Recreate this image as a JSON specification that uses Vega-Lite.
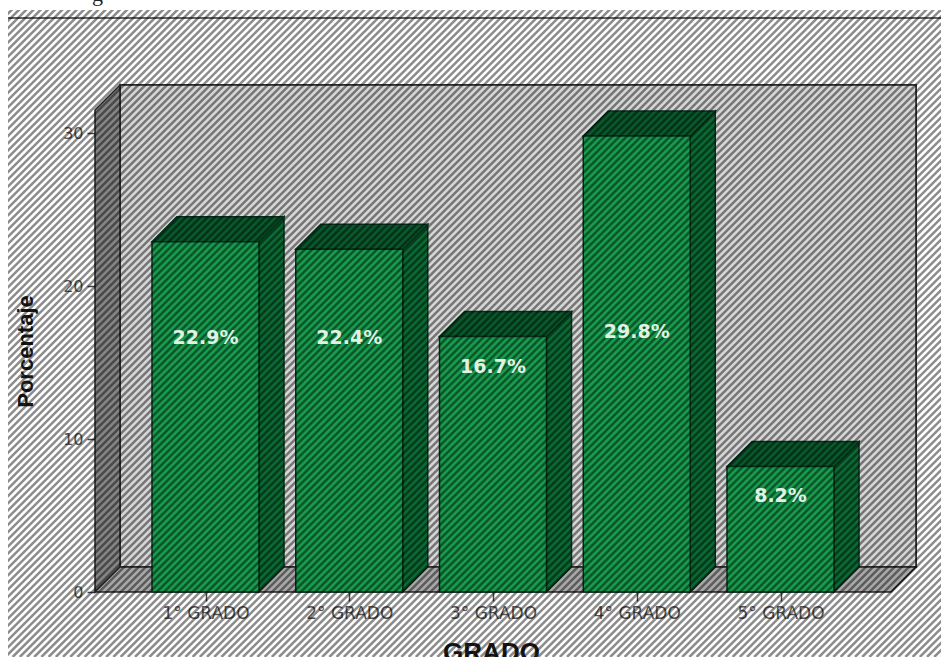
{
  "$schema": "https://vega.github.io/schema/vega-lite/v6.json",
  "width": 941,
  "height": 657,
  "autosize": {"type": "none"},
  "padding": 0,
  "background": "white",
  "view": {"stroke": null},
  "params": [
    {"name": "medioAncho", "value": 0.3722},
    {"name": "fondoX", "value": 0.1739},
    {"name": "fondoV", "value": 1.634}
  ],
  "datasets": {
    "grados": [
      {"orden": 1, "grado": "1° GRADO", "porcentaje": 22.9},
      {"orden": 2, "grado": "2° GRADO", "porcentaje": 22.4},
      {"orden": 3, "grado": "3° GRADO", "porcentaje": 16.7},
      {"orden": 4, "grado": "4° GRADO", "porcentaje": 29.8},
      {"orden": 5, "grado": "5° GRADO", "porcentaje": 8.2}
    ],
    "esquinas": [{"esquina": 0}, {"esquina": 1}],
    "franjas": [0,1,2,3,4,5,6,7,8,9,10,11,12,13,14,15,16,17,18,19,20,21,22,23,24,25,26,27,28,29,30,31,32,33,34,35,36,37,38,39,40,41,42,43,44,45,46,47,48,49,50,51,52,53,54,55,56,57,58,59,60,61,62,63,64,65,66,67,68,69,70,71,72,73,74,75,76,77,78,79,80,81,82,83,84,85,86,87,88,89,90,91,92,93,94,95,96,97,98,99,100,101,102,103,104,105,106,107,108,109,110,111,112,113,114,115,116,117,118,119,120,121,122,123,124,125,126,127,128,129,130,131,132,133,134,135,136,137,138,139,140,141,142,143,144,145,146,147,148,149,150,151,152,153,154,155,156,157,158,159,160,161,162,163,164,165,166,167,168,169,170,171,172,173,174,175,176,177,178,179,180,181,182,183,184,185,186,187,188,189,190,191,192,193,194,195,196,197,198,199,200,201,202,203,204,205,206,207,208,209,210,211,212,213,214,215,216,217,218,219,220,221,222]
  },
  "layer": [
    {
      "description": "Front-plane axes, drawn from the bar values",
      "data": {"name": "grados"},
      "mark": {"type": "rect", "fillOpacity": 0, "strokeOpacity": 0},
      "encoding": {
        "x": {
          "field": "orden", "type": "quantitative",
          "scale": {"domain": [-0.4296, 6.1165], "nice": false, "zero": false},
          "axis": {
            "values": [1, 2, 3, 4, 5],
            "labelExpr": "datum.value + '° GRADO'",
            "offset": -65,
            "domain": false, "grid": false,
            "tickSize": 9, "tickColor": "#444", "tickWidth": 1.5,
            "labelFont": "DejaVu Sans", "labelFontSize": 17, "labelColor": "#555", "labelPadding": 4,
            "title": "GRADO",
            "titleFont": "Liberation Sans", "titleFontSize": 26, "titleFontWeight": "bold", "titleColor": "#1a1a1a",
            "titleX": 491, "titleY": 68, "titleAlign": "center", "titleBaseline": "alphabetic"
          }
        },
        "y": {
          "field": "porcentaje", "type": "quantitative",
          "scale": {"domain": [-4.248, 38.693], "nice": false, "zero": false},
          "axis": {
            "values": [0, 10, 20, 30],
            "offset": -95,
            "domain": false, "grid": false,
            "tickSize": 8, "tickColor": "#444", "tickWidth": 1.5,
            "labelFont": "DejaVu Sans", "labelFontSize": 16, "labelColor": "#555", "labelPadding": 4,
            "title": "Porcentaje",
            "titleFont": "Liberation Sans", "titleFontSize": 22, "titleFontWeight": "bold", "titleColor": "#1a1a1a",
            "titleX": -70, "titleY": 351, "titleAngle": -90, "titleAlign": "center", "titleBaseline": "middle"
          }
        }
      }
    },
    {
      "description": "Back wall of the 3D box",
      "data": {"name": "esquinas"},
      "mark": {"type": "rect", "fill": "#d6d6d6", "stroke": "#222", "strokeWidth": 1.5},
      "encoding": {
        "x": {"datum": 0.4052, "type": "quantitative", "scale": {"domain": [-0.4296, 6.1165], "nice": false, "zero": false}},
        "x2": {"datum": 5.9426},
        "y": {"datum": 1.634, "type": "quantitative", "scale": {"domain": [-4.248, 38.693], "nice": false, "zero": false}},
        "y2": {"datum": 33.137}
      }
    },
    {
      "description": "Left wall",
      "data": {"name": "esquinas"},
      "transform": [
        {"calculate": "0.2313 + datum.esquina * fondoX", "as": "px"},
        {"calculate": "31.503 + datum.esquina * fondoV", "as": "vArriba"},
        {"calculate": "datum.esquina * fondoV", "as": "vAbajo"}
      ],
      "mark": {"type": "area", "fill": "#858585", "stroke": "#222", "strokeWidth": 1.5},
      "encoding": {
        "x": {"field": "px", "type": "quantitative", "scale": {"domain": [-0.4296, 6.1165], "nice": false, "zero": false}},
        "y": {"field": "vArriba", "type": "quantitative", "scale": {"domain": [-4.248, 38.693], "nice": false, "zero": false}},
        "y2": {"field": "vAbajo"}
      }
    },
    {
      "description": "Floor",
      "data": {"name": "esquinas"},
      "transform": [
        {"calculate": "datum.esquina * fondoV", "as": "v"},
        {"calculate": "0.2313 + datum.esquina * fondoX", "as": "xIzq"},
        {"calculate": "5.7687 + datum.esquina * fondoX", "as": "xDer"}
      ],
      "mark": {"type": "area", "orient": "horizontal", "fill": "#a8a8a8", "stroke": "#222", "strokeWidth": 1.5},
      "encoding": {
        "y": {"field": "v", "type": "quantitative", "scale": {"domain": [-4.248, 38.693], "nice": false, "zero": false}},
        "x": {"field": "xIzq", "type": "quantitative", "scale": {"domain": [-0.4296, 6.1165], "nice": false, "zero": false}},
        "x2": {"field": "xDer"}
      }
    },
    {
      "description": "Right-hand side of each bar",
      "data": {"name": "grados"},
      "transform": [
        {"calculate": "[0, 1]", "as": "esquina"},
        {"flatten": ["esquina"]},
        {"calculate": "datum.orden + medioAncho + datum.esquina * fondoX", "as": "px"},
        {"calculate": "datum.porcentaje + datum.esquina * fondoV", "as": "vArriba"},
        {"calculate": "datum.esquina * fondoV", "as": "vAbajo"}
      ],
      "mark": {"type": "area", "fill": "#0a6a34", "stroke": "#06301a", "strokeWidth": 1.5},
      "encoding": {
        "detail": {"field": "orden"},
        "x": {"field": "px", "type": "quantitative", "scale": {"domain": [-0.4296, 6.1165], "nice": false, "zero": false}},
        "y": {"field": "vArriba", "type": "quantitative", "scale": {"domain": [-4.248, 38.693], "nice": false, "zero": false}},
        "y2": {"field": "vAbajo"}
      }
    },
    {
      "description": "Top of each bar",
      "data": {"name": "grados"},
      "transform": [
        {"calculate": "[0, 1]", "as": "esquina"},
        {"flatten": ["esquina"]},
        {"calculate": "datum.porcentaje + datum.esquina * fondoV", "as": "v"},
        {"calculate": "datum.orden - medioAncho + datum.esquina * fondoX", "as": "xIzq"},
        {"calculate": "datum.orden + medioAncho + datum.esquina * fondoX", "as": "xDer"}
      ],
      "mark": {"type": "area", "orient": "horizontal", "fill": "#08592c", "stroke": "#06301a", "strokeWidth": 1.5},
      "encoding": {
        "detail": {"field": "orden"},
        "y": {"field": "v", "type": "quantitative", "scale": {"domain": [-4.248, 38.693], "nice": false, "zero": false}},
        "x": {"field": "xIzq", "type": "quantitative", "scale": {"domain": [-0.4296, 6.1165], "nice": false, "zero": false}},
        "x2": {"field": "xDer"}
      }
    },
    {
      "description": "Front face of each bar",
      "data": {"name": "grados"},
      "transform": [
        {"calculate": "datum.orden - medioAncho", "as": "xIzq"},
        {"calculate": "datum.orden + medioAncho", "as": "xDer"}
      ],
      "mark": {"type": "rect", "fill": "#179c4e", "stroke": "#06301a", "strokeWidth": 1.5},
      "encoding": {
        "x": {"field": "xIzq", "type": "quantitative", "scale": {"domain": [-0.4296, 6.1165], "nice": false, "zero": false}},
        "x2": {"field": "xDer"},
        "y": {"field": "porcentaje", "type": "quantitative", "scale": {"domain": [-4.248, 38.693], "nice": false, "zero": false}},
        "y2": {"datum": 0}
      }
    },
    {
      "description": "Rule under the top edge of the plate",
      "data": {"name": "esquinas"},
      "mark": {"type": "rule", "stroke": "#666", "strokeWidth": 2},
      "encoding": {
        "y": {"datum": 37.517, "type": "quantitative", "scale": {"domain": [-4.248, 38.693], "nice": false, "zero": false}}
      }
    },
    {
      "description": "Diagonal hatch laid over the whole plate",
      "data": {"name": "franjas"},
      "transform": [
        {"calculate": "-0.4296 + datum.data * 0.050087", "as": "xArriba"},
        {"calculate": "datum.xArriba - 4.5704", "as": "xAbajo"}
      ],
      "mark": {"type": "rule", "stroke": "#000", "strokeOpacity": 0.45, "strokeWidth": 2.5, "clip": true},
      "encoding": {
        "x": {"field": "xArriba", "type": "quantitative", "scale": {"domain": [-0.4296, 6.1165], "nice": false, "zero": false}},
        "x2": {"field": "xAbajo"},
        "y": {"datum": 38.693, "type": "quantitative", "scale": {"domain": [-4.248, 38.693], "nice": false, "zero": false}},
        "y2": {"datum": -4.248}
      }
    },
    {
      "description": "Top page margin",
      "data": {"name": "esquinas"},
      "mark": {"type": "rect", "fill": "white"},
      "encoding": {
        "x": {"datum": -0.4296, "type": "quantitative", "scale": {"domain": [-0.4296, 6.1165], "nice": false, "zero": false}},
        "x2": {"datum": 6.1165},
        "y": {"datum": 38.039, "type": "quantitative", "scale": {"domain": [-4.248, 38.693], "nice": false, "zero": false}},
        "y2": {"datum": 38.693}
      }
    },
    {
      "description": "Left page margin",
      "data": {"name": "esquinas"},
      "mark": {"type": "rect", "fill": "white"},
      "encoding": {
        "x": {"datum": -0.4296, "type": "quantitative", "scale": {"domain": [-0.4296, 6.1165], "nice": false, "zero": false}},
        "x2": {"datum": -0.374},
        "y": {"datum": -4.248, "type": "quantitative", "scale": {"domain": [-4.248, 38.693], "nice": false, "zero": false}},
        "y2": {"datum": 38.693}
      }
    },
    {
      "description": "Percentage labels inside the bars",
      "data": {"name": "grados"},
      "transform": [
        {"calculate": "format(datum.porcentaje, '.1f') + '%'", "as": "etiqueta"},
        {"calculate": "[16.6, 16.6, 14.7, 17.0, 6.3][datum.orden - 1]", "as": "vEtiqueta"}
      ],
      "mark": {"type": "text", "font": "DejaVu Sans", "fontWeight": "bold", "fontSize": 19, "fill": "#e0f2e4", "align": "center", "baseline": "middle"},
      "encoding": {
        "x": {"field": "orden", "type": "quantitative", "scale": {"domain": [-0.4296, 6.1165], "nice": false, "zero": false}},
        "y": {"field": "vEtiqueta", "type": "quantitative", "scale": {"domain": [-4.248, 38.693], "nice": false, "zero": false}},
        "text": {"field": "etiqueta"}
      }
    },
    {
      "description": "Descender of the heading line above the plate",
      "data": {"name": "esquinas"},
      "transform": [{"filter": "datum.esquina == 0"}],
      "mark": {"type": "text", "text": "g", "font": "Liberation Serif", "fontSize": 22, "fill": "#222", "align": "center", "baseline": "alphabetic"},
      "encoding": {
        "x": {"datum": 0.2487, "type": "quantitative", "scale": {"domain": [-0.4296, 6.1165], "nice": false, "zero": false}},
        "y": {"datum": 38.66, "type": "quantitative", "scale": {"domain": [-4.248, 38.693], "nice": false, "zero": false}}
      }
    }
  ]
}
